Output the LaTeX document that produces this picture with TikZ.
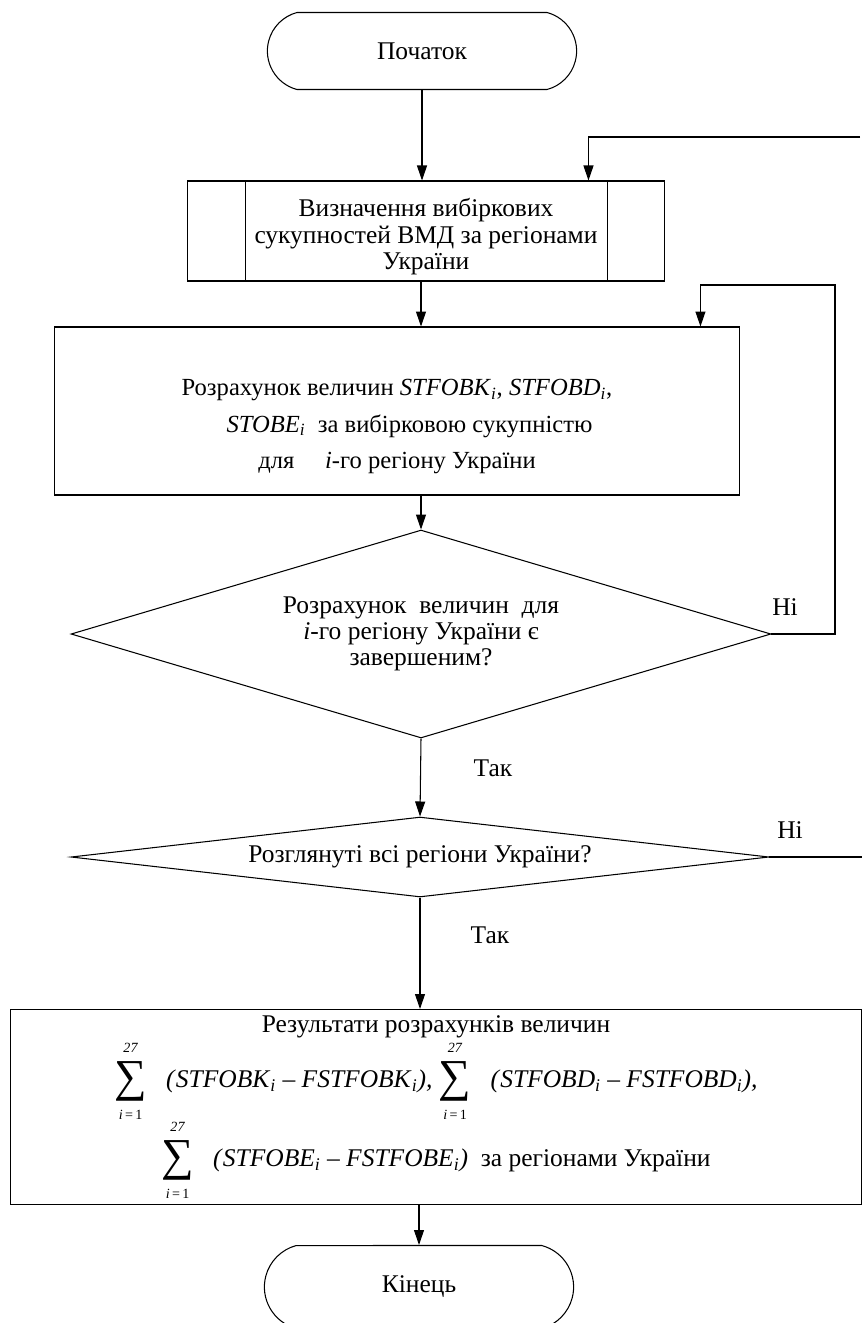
\documentclass[tikz,border=0pt]{standalone}
\usepackage{fontspec}
\setmainfont{Liberation Serif}
\usetikzlibrary{shapes.geometric,shapes.misc,arrows.meta,calc}

\newcommand{\limf}{\fontsize{8}{8}\selectfont}
\newcommand{\sumi}{$\vcenter{\hbox{\shortstack{\limf\textit{27}\rule[-2.5pt]{0pt}{2.5pt}\\
  \fontsize{26}{26}\selectfont ∑\\\limf\rule{0pt}{7.5pt}\textit{i}\,=\,1}}}$}
\newcommand{\vi}[1]{\textit{#1}\textsubscript{\textit{i}}}

\begin{document}
\begin{tikzpicture}[x=0.02cm,y=-0.02cm,line width=0.6pt,
    font={\fontsize{14.5}{15}\selectfont},
    arr/.style={-{Triangle[length=0.3cm,width=0.2cm]}},
    term/.style={draw,rounded rectangle,rounded rectangle arc length=150,
      minimum width=6.42cm,minimum height=1.6cm},
    block/.style={draw,rectangle,align=center,inner sep=0pt},
    cond/.style={draw,diamond,align=center,inner sep=0pt}]
  \useasboundingbox (0,0) rectangle (862,1323);

  % Початок
  \node[term,minimum height=1.54cm] (start) at (422,51) {Початок};

  % Визначення вибіркових сукупностей
  \node[block,minimum width=9.56cm,minimum height=2cm] (sel) at (426,231)
    {\rule{0pt}{0.6cm}Визначення вибіркових\\сукупностей ВМД за регіонами\\України};
  \draw ($(sel.north west)+(59,0)$) -- ($(sel.south west)+(59,0)$);
  \draw ($(sel.north east)+(-58,0)$) -- ($(sel.south east)+(-58,0)$);

  % Розрахунок величин
  \node[block,minimum width=13.72cm,minimum height=3.36cm,
    font={\fontsize{14}{21}\selectfont}] (comp) at (397,411)
    {\rule{0pt}{0.95cm}Розрахунок величин \vi{STFOBK}, \vi{STFOBD},\\
     \hspace*{0.5cm}\vi{STOBE} \ за вибірковою сукупністю\\
     для \quad\textit{i}-го регіону України};

  % Розрахунок завершено?
  \node[cond,minimum width=14cm,minimum height=4.16cm,aspect=3.4] (done) at (421,634)
    {Розрахунок \ величин \ для\\\textit{i}-го регіону України є\\завершеним?};

  % Розглянуті всі регіони?
  \node[cond,minimum width=13.96cm,minimum height=1.6cm,aspect=8.7] (all) at (420,857)
    {Розглянуті всі регіони України?};

  % Результати
  \node[block,minimum width=17.04cm,minimum height=3.9cm] (res) at (436,1107)
    {Результати розрахунків величин\\[2pt]
     \sumi\ \ \ \textit{(}\vi{STFOBK} – \vi{FSTFOBK}\textit{),}
     \sumi\ \ \ \textit{(}\vi{STFOBD} – \vi{FSTFOBD}\textit{),}\\[0pt]
     \sumi\ \ \ \textit{(}\vi{STFOBE} – \vi{FSTFOBE}\textit{)}\ \ за регіонами України};

  % Кінець
  \node[term,minimum height=1.66cm] (stop) at (419,1287) {Кінець};

  % main flow
  \draw[arr] (start.south) -- (start.south |- sel.north);
  \draw[arr] (sel.south -| done.north) -- (done.north |- comp.north);
  \draw[arr] (comp.south -| done.north) -- (done.north);
  \draw[arr] (done.south) -- (all.north);
  \draw[arr] (all.south) -- (all.south |- res.north);
  \draw[arr] (res.south -| stop.north) -- (stop.north);

  % back lines
  \coordinate (back1) at (860,137);
  \draw[arr] (back1) -| ($(sel.north east)+(-77,0)$);
  \coordinate (back2) at (835,285);
  \draw[arr] (done.east) -| (back2) -| ($(comp.north east)+(-40,0)$);
  \coordinate (exit) at (862,857);
  \draw (all.east) -- (exit);

  % labels
  \node (no1) at (785,607) {Ні};
  \node (yes1) at (493,768) {Так};
  \node (no2) at (790,830) {Ні};
  \node (yes2) at (490,935) {Так};
\end{tikzpicture}
\end{document}
